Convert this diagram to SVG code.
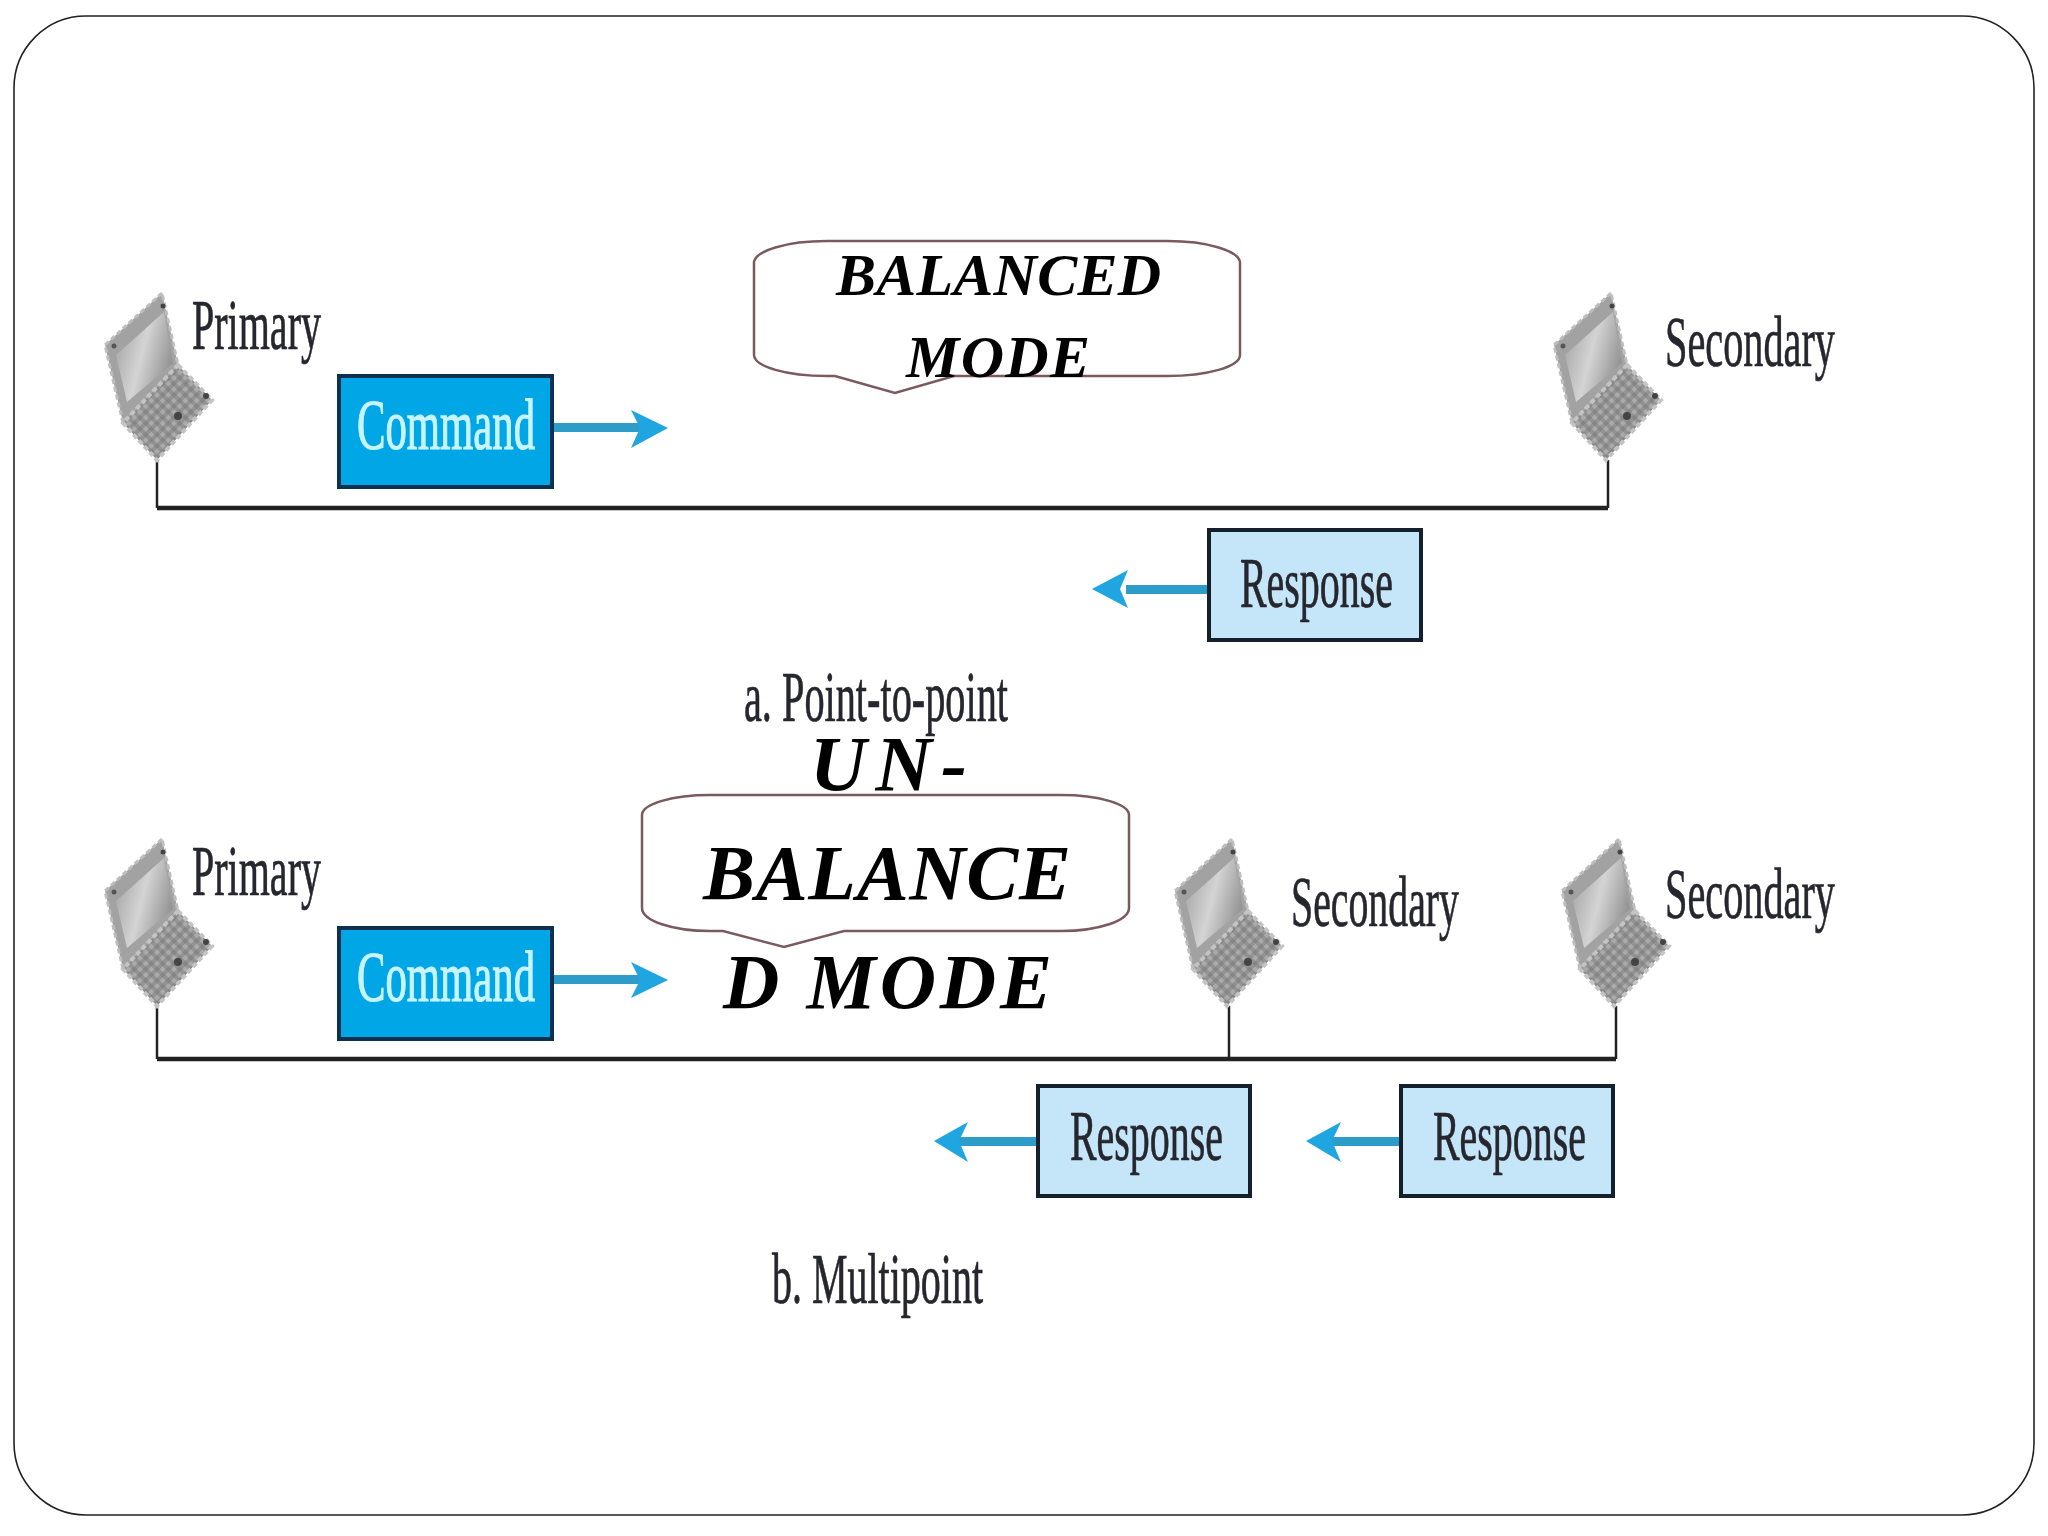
<svg xmlns="http://www.w3.org/2000/svg" width="2048" height="1536" viewBox="0 0 2048 1536">
<style>
.bubble{fill:none;stroke:#7a5a5e;stroke-width:2.5}
.head{font-family:"Liberation Serif",serif;font-style:italic;font-weight:bold;fill:#000}
.h1{font-size:60px}.h2{font-size:78px}
.lab{font-family:"Liberation Serif",serif;font-size:72px;fill:#26262e;stroke:#26262e;stroke-width:0.7}
.cmd{fill:#00a6e6;stroke:#0c3150;stroke-width:4}
.cmdt{font-family:"Liberation Serif",serif;font-size:72px;fill:#c8f4ff;stroke:#c8f4ff;stroke-width:1.2}
.res{fill:#c5e6f8;stroke:#14202c;stroke-width:4}
.wire{fill:none;stroke:#222;stroke-width:2.5}
.bus{fill:none;stroke:#222;stroke-width:4.5}
.shaft{fill:#2d9cc8}
.ahead{fill:#1fa5e0}
</style>
<defs>
<linearGradient id="scr" x1="0" y1="0.3" x2="1" y2="0.7">
<stop offset="0" stop-color="#a8a8a8"/><stop offset="0.45" stop-color="#d4d4d4"/><stop offset="1" stop-color="#8a8a8a"/>
</linearGradient>
<pattern id="keys" width="8" height="8" patternUnits="userSpaceOnUse" patternTransform="rotate(45)">
<rect width="8" height="8" fill="#939393"/><rect width="4" height="4" fill="#ababab"/><rect x="4" y="4" width="4" height="4" fill="#858585"/>
</pattern>
<g id="laptop">
<polygon points="5,-167 -52,-115 -34,-37 21,-95" fill="#a2a2a2" stroke="#bdbdbd" stroke-width="3" stroke-dasharray="5 3"/>
<polygon points="7,-148 -41,-105 -30,-58 16,-97" fill="url(#scr)"/>
<polygon points="21,-95 55,-60 0,0 -34,-37" fill="url(#keys)" stroke="#c4c4c4" stroke-width="4" stroke-dasharray="5 3"/>
<circle cx="49" cy="-64" r="3" fill="#444"/><circle cx="21" cy="-44" r="4" fill="#444"/><circle cx="6" cy="-154" r="2.5" fill="#444"/><circle cx="-43" cy="-114" r="2.5" fill="#555"/>
</g>
</defs>
<rect width="2048" height="1536" fill="#fff"/>
<rect id="frame" x="14" y="16" width="2020" height="1499" rx="72" ry="72" fill="none" stroke="#222" stroke-width="1.6"/>
<g id="connectors">
<path class="wire" d="M157 460V508"/><path class="wire" d="M1608 460V508"/>
<path class="bus" d="M157 508H1608"/>
<path class="wire" d="M157 1006V1059"/><path class="wire" d="M1229 1006V1059"/><path class="wire" d="M1616 1006V1059"/>
<path class="bus" d="M157 1059H1616"/>
<rect class="shaft" x="553" y="423" width="90" height="9"/><polygon class="ahead" points="631,410 668,428 631,448 640,428"/>
<rect class="shaft" x="553" y="975" width="90" height="9"/><polygon class="ahead" points="631,962 668,980 631,998 640,980"/>
<rect class="shaft" x="1126" y="585" width="82" height="9"/><polygon class="ahead" points="1128,570 1092,589 1128,608 1120,589"/>
<rect class="shaft" x="957" y="1137" width="80" height="9"/><polygon class="ahead" points="968,1122 934,1141 968,1162 959,1141"/>
<rect class="shaft" x="1330" y="1137" width="70" height="9"/><polygon class="ahead" points="1341,1122 1306,1141 1341,1162 1332,1141"/>
</g>
<g id="primary-a"><use href="#laptop" x="157" y="460"/><text class="lab" x="192" y="349" textLength="129" lengthAdjust="spacingAndGlyphs">Primary</text></g>
<g id="secondary-a"><use href="#laptop" x="1606" y="460"/><text class="lab" x="1665" y="366" textLength="170" lengthAdjust="spacingAndGlyphs">Secondary</text></g>
<g id="command-a"><rect class="cmd" x="339" y="376" width="213" height="111"/><text class="cmdt" x="357" y="449" textLength="178" lengthAdjust="spacingAndGlyphs">Command</text></g>
<g id="response-a"><rect class="res" x="1209" y="530" width="212" height="110"/><text class="lab" x="1240" y="607" textLength="153" lengthAdjust="spacingAndGlyphs">Response</text></g>
<g id="bubble-balanced"><path class="bubble" d="M754 263A73 22 0 0 1 827 241H1167A73 22 0 0 1 1240 263V355A73 21 0 0 1 1167 376H954L895 393L835 376H827A73 21 0 0 1 754 355Z"/>
<text class="head h1" x="836" y="295" textLength="325">BALANCED</text><text class="head h1" x="906" y="377" textLength="184">MODE</text></g>
<text id="caption-a" class="lab" x="744" y="721" textLength="264" lengthAdjust="spacingAndGlyphs">a. Point-to-point</text>
<g id="primary-b"><use href="#laptop" x="157" y="1006"/><text class="lab" x="192" y="895" textLength="129" lengthAdjust="spacingAndGlyphs">Primary</text></g>
<g id="secondary-b1"><use href="#laptop" x="1227" y="1006"/><text class="lab" x="1291" y="926" textLength="168" lengthAdjust="spacingAndGlyphs">Secondary</text></g>
<g id="secondary-b2"><use href="#laptop" x="1614" y="1006"/><text class="lab" x="1665" y="918" textLength="170" lengthAdjust="spacingAndGlyphs">Secondary</text></g>
<g id="command-b"><rect class="cmd" x="339" y="928" width="213" height="111"/><text class="cmdt" x="357" y="1001" textLength="178" lengthAdjust="spacingAndGlyphs">Command</text></g>
<g id="response-b1"><rect class="res" x="1038" y="1086" width="212" height="110"/><text class="lab" x="1070" y="1160" textLength="153" lengthAdjust="spacingAndGlyphs">Response</text></g>
<g id="response-b2"><rect class="res" x="1401" y="1086" width="212" height="110"/><text class="lab" x="1433" y="1160" textLength="153" lengthAdjust="spacingAndGlyphs">Response</text></g>
<g id="bubble-unbalanced"><path class="bubble" d="M642 815A68 20 0 0 1 710 795H1061A68 20 0 0 1 1129 815V908A68 23 0 0 1 1061 931H844L784 947L723 931H710A68 23 0 0 1 642 908Z"/>
<text class="head h2" x="810" y="790" textLength="157">UN-</text><text class="head h2" x="703" y="899" textLength="368">BALANCE</text><text class="head h2" x="723" y="1008" textLength="329">D MODE</text></g>
<text id="caption-b" class="lab" x="772" y="1303" textLength="211" lengthAdjust="spacingAndGlyphs">b. Multipoint</text>
</svg>
